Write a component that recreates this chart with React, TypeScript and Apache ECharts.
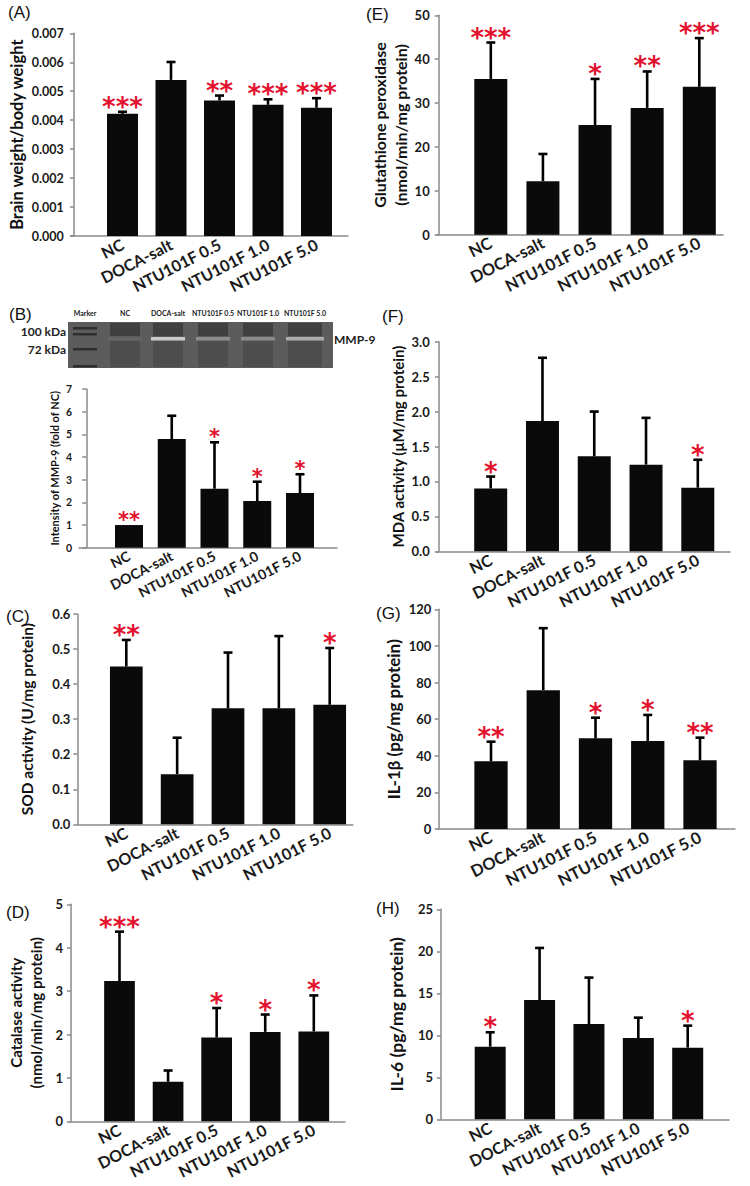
import React, { useEffect, useRef } from "react";
import * as echarts from "echarts";

// ---------------- data ----------------
const categories = ["NC", "DOCA-salt", "NTU101F 0.5", "NTU101F 1.0", "NTU101F 5.0"];
const blotLanes = ["Marker", "NC", "DOCA-salt", "NTU101F 0.5", "NTU101F 1.0", "NTU101F 5.0"];

const brainMeans = [0.00422, 0.00539, 0.00468, 0.00453, 0.00443];
const brainErr = [0.00007, 0.00062, 0.00017, 0.00019, 0.00033];
const brainStars = ["***", "", "**", "***", "***"];

const mmpMeans = [1.0, 4.79, 2.6, 2.06, 2.41];
const mmpErr = [0, 1.03, 2.05, 0.85, 0.83];
const mmpStars = ["**", "", "*", "*", "*"];

const sodMeans = [0.45, 0.143, 0.331, 0.331, 0.341];
const sodErr = [0.076, 0.104, 0.159, 0.206, 0.162];
const sodStars = ["**", "", "", "", "*"];

const catMeans = [3.23, 0.91, 1.93, 2.06, 2.07];
const catErr = [1.14, 0.26, 0.68, 0.4, 0.83];
const catStars = ["***", "", "*", "*", "*"];

const gpxMeans = [35.5, 12.2, 25.0, 28.9, 33.7];
const gpxErr = [8.3, 6.2, 10.5, 8.3, 11.1];
const gpxStars = ["***", "", "*", "**", "***"];

const mdaMeans = [0.9, 1.865, 1.36, 1.24, 0.91];
const mdaErr = [0.17, 0.905, 0.64, 0.67, 0.4];
const mdaStars = ["*", "", "", "", "*"];

const il1bMeans = [37.0, 75.8, 49.5, 48.1, 37.5];
const il1bErr = [10.7, 33.9, 11.3, 14.2, 12.4];
const il1bStars = ["**", "", "*", "*", "**"];

const il6Means = [8.65, 14.2, 11.35, 9.68, 8.53];
const il6Err = [1.71, 6.2, 5.52, 2.42, 2.62];
const il6Stars = ["*", "", "", "", "*"];

// ---------------- layout ----------------
const FONT = "Lato";
const RED = "#e3122e";
const AXIS_GRAY = "#8a8a8a";

type Panel = {
  letter: string; lx: number; ly: number;
  means: number[]; err: number[]; stars: string[];
  yMax: number; yInt: number; dec: number;
  name: string; nameGap: number; nameSize: number;
  left: number; right: number; top: number; bottom: number;
  c1: number; c5: number; bw: number;
  tickSize: number; labelSize: number; starSize: number;
};

const panels: Panel[] = [
  { letter: "(A)", lx: 8, ly: 12, means: brainMeans, err: brainErr, stars: brainStars, yMax: 0.007, yInt: 0.001, dec: 3,
    name: "Brain weight/body weight", nameGap: 42, nameSize: 16.5,
    left: 70.7, right: 348, top: 33.3, bottom: 236, c1: 122.5, c5: 316.5, bw: 31, tickSize: 12.5, labelSize: 16, starSize: 26 },
  { letter: "(B)", lx: 9, ly: 314, means: mmpMeans, err: mmpErr, stars: mmpStars, yMax: 7, yInt: 1, dec: 0,
    name: "Intensity of MMP-9 (fold of NC)", nameGap: 11, nameSize: 11,
    left: 79, right: 337, top: 389, bottom: 547.7, c1: 129, c5: 300, bw: 28, tickSize: 10.5, labelSize: 14, starSize: 21 },
  { letter: "(C)", lx: 6, ly: 616, means: sodMeans, err: sodErr, stars: sodStars, yMax: 0.6, yInt: 0.1, dec: 1,
    name: "SOD activity (U/mg protein)", nameGap: 40, nameSize: 15.5,
    left: 77.3, right: 353, top: 614, bottom: 824.3, c1: 126.3, c5: 329.7, bw: 32.7, tickSize: 13, labelSize: 16, starSize: 26 },
  { letter: "(D)", lx: 6, ly: 912, means: catMeans, err: catErr, stars: catStars, yMax: 5, yInt: 1, dec: 0,
    name: "Catalase activity\n(nmol/min/mg protein)", nameGap: 24, nameSize: 15,
    left: 70, right: 345, top: 904.3, bottom: 1121.3, c1: 119.5, c5: 313.8, bw: 30.7, tickSize: 13, labelSize: 16, starSize: 26 },
  { letter: "(E)", lx: 366, ly: 14, means: gpxMeans, err: gpxErr, stars: gpxStars, yMax: 50, yInt: 10, dec: 0,
    name: "Glutathione peroxidase\n(nmol/min/mg protein)", nameGap: 24, nameSize: 16,
    left: 436.7, right: 723, top: 15.3, bottom: 234.7, c1: 490.8, c5: 699.3, bw: 33, tickSize: 13, labelSize: 16.5, starSize: 26 },
  { letter: "(F)", lx: 382, ly: 316, means: mdaMeans, err: mdaErr, stars: mdaStars, yMax: 3, yInt: 0.5, dec: 1,
    name: "MDA activity (\u03bcM/mg protein)", nameGap: 29, nameSize: 15,
    left: 436.7, right: 730, top: 341.7, bottom: 551.3, c1: 490.7, c5: 697.8, bw: 33, tickSize: 13, labelSize: 16, starSize: 26 },
  { letter: "(G)", lx: 376, ly: 613, means: il1bMeans, err: il1bErr, stars: il1bStars, yMax: 120, yInt: 20, dec: 0,
    name: "IL-1\u03b2 (pg/mg protein)", nameGap: 30, nameSize: 17,
    left: 438.3, right: 735, top: 609.3, bottom: 829, c1: 491, c5: 700, bw: 33.3, tickSize: 13, labelSize: 16.5, starSize: 26 },
  { letter: "(H)", lx: 376, ly: 908, means: il6Means, err: il6Err, stars: il6Stars, yMax: 25, yInt: 5, dec: 0,
    name: "IL-6 (pg/mg protein)", nameGap: 32, nameSize: 17.5,
    left: 440, right: 729, top: 909.3, bottom: 1119.3, c1: 490.2, c5: 687.7, bw: 31, tickSize: 13, labelSize: 16, starSize: 26 },
];

function buildOption() {
  const grid: any[] = [];
  const xAxis: any[] = [];
  const yAxis: any[] = [];
  const series: any[] = [];
  const graphic: any[] = [];

  panels.forEach((p, i) => {
    const s = (p.c5 - p.c1) / 4;
    const xmin = 1 - (p.c1 - p.left) / s;
    const xmax = 5 + (p.right - p.c5) / s;
    grid.push({ left: p.left, top: p.top, width: p.right - p.left, height: p.bottom - p.top, containLabel: false });
    xAxis.push({
      type: "value", gridIndex: i, min: xmin, max: xmax,
      axisLine: { show: true, lineStyle: { color: AXIS_GRAY, width: 1.5 } },
      axisTick: { show: false }, splitLine: { show: false },
      axisLabel: {
        customValues: [1, 2, 3, 4, 5],
        formatter: (v: number) => categories[Math.round(v) - 1] ?? "",
        rotate: 27, margin: 7, fontFamily: FONT, fontWeight: "bold", fontSize: p.labelSize, color: "#1a1a1a",
      },
    });
    yAxis.push({
      type: "value", gridIndex: i, min: 0, max: p.yMax, interval: p.yInt,
      axisLine: { show: true, lineStyle: { color: AXIS_GRAY, width: 1.5 } },
      axisTick: { show: true, length: 4, lineStyle: { color: AXIS_GRAY, width: 1.5 } },
      splitLine: { show: false },
      axisLabel: {
        formatter: (v: number) => v.toFixed(p.dec), margin: 7,
        fontFamily: FONT, fontWeight: "bold", fontSize: p.tickSize, color: "#1a1a1a",
      },
      name: p.name, nameLocation: "middle", nameGap: p.nameGap,
      nameTextStyle: { fontFamily: FONT, fontWeight: "bold", fontSize: p.nameSize, color: "#111", lineHeight: p.nameSize + 5 },
    });
    series.push({
      type: "bar", xAxisIndex: i, yAxisIndex: i, barWidth: p.bw,
      itemStyle: { color: "#0a0a0a" },
      data: p.means.map((m, j) => [j + 1, m]),
    });
    series.push({
      type: "custom", xAxisIndex: i, yAxisIndex: i, z: 3,
      encode: { x: 0, y: [1, 2] },
      data: p.means.map((m, j) => [j + 1, m, m + p.err[j]]),
      renderItem: (params: any, api: any) => {
        const x = api.value(0);
        const lo = api.value(1);
        const hi = api.value(2);
        if (!(hi > lo)) return { type: "group", children: [] };
        const a = api.coord([x, lo]);
        const b = api.coord([x, hi]);
        const st = { stroke: "#000", lineWidth: 2.6 };
        return {
          type: "group",
          children: [
            { type: "line", shape: { x1: a[0], y1: a[1], x2: b[0], y2: b[1] }, style: st },
            { type: "line", shape: { x1: b[0] - 4.5, y1: b[1], x2: b[0] + 4.5, y2: b[1] }, style: st },
          ],
        };
      },
    });
    series.push({
      type: "custom", xAxisIndex: i, yAxisIndex: i, z: 4,
      encode: { x: 0, y: 1 },
      data: p.means.map((m, j) => [j + 1, m + p.err[j]]),
      renderItem: (params: any, api: any) => {
        const txt = p.stars[params.dataIndex];
        if (!txt) return { type: "group", children: [] };
        const c = api.coord([api.value(0), api.value(1)]);
        return {
          type: "text", x: c[0], y: c[1] - 5,
          style: {
            text: txt, fill: RED, font: `bold ${p.starSize}px "DejaVu Sans"`,
            textAlign: "center", textVerticalAlign: "middle", align: "center", verticalAlign: "middle",
          },
        };
      },
    });
    graphic.push({
      type: "text", left: p.lx, top: p.ly - 8,
      style: { text: p.letter, font: '17px "Liberation Sans"', fill: "#111" },
    });
  });

  // Western blot picture (panel B)
  const blotX = 68, blotY = 322, blotW = 265, blotH = 46;
  graphic.push({ type: "rect", shape: { x: blotX, y: blotY, width: blotW, height: blotH }, style: { fill: "#5c5c5c" } });
  const laneX = [85, 125, 168, 213, 258, 305];
  const laneW = [24, 30, 30, 30, 30, 34];
  const bandFill = ["", "#646464", "#c8c8c8", "#8c8c8c", "#8a8a8a", "#acacac"];
  laneX.forEach((cx, k) => {
    const w = laneW[k];
    if (k === 0) {
      [327, 333, 348, 365].forEach((by) =>
        graphic.push({ type: "rect", shape: { x: cx - w / 2, y: by, width: w, height: 2.5 }, style: { fill: "#2e2e2e" } })
      );
    } else {
      graphic.push({ type: "rect", shape: { x: cx - w / 2, y: blotY + 1, width: w, height: 13 }, style: { fill: "#404040" } });
      graphic.push({ type: "rect", shape: { x: cx - w / 2, y: blotY + 19, width: w, height: blotH - 20 }, style: { fill: "#4e4e4e" } });
      graphic.push({ type: "rect", shape: { x: cx - w / 2 - 2, y: blotY + 15, width: w + 4, height: 3.5 }, style: { fill: bandFill[k] } });
    }
    graphic.push({
      type: "text", x: cx, y: 313,
      style: { text: blotLanes[k], font: `bold 7px ${FONT}`, fill: "#222", textAlign: "center", textVerticalAlign: "middle", align: "center", verticalAlign: "middle" },
    });
  });
  graphic.push({ type: "text", x: 66, y: 331, style: { text: "100 kDa", font: `bold 12px ${FONT}`, fill: "#222", textAlign: "right", textVerticalAlign: "middle", align: "right", verticalAlign: "middle" } });
  graphic.push({ type: "text", x: 66, y: 349, style: { text: "72 kDa", font: `bold 12px ${FONT}`, fill: "#222", textAlign: "right", textVerticalAlign: "middle", align: "right", verticalAlign: "middle" } });
  graphic.push({ type: "text", x: 334, y: 339, style: { text: "MMP-9", font: `bold 12px ${FONT}`, fill: "#222", textAlign: "left", textVerticalAlign: "middle", align: "left", verticalAlign: "middle" } });

  return { animation: false, backgroundColor: "#ffffff", grid, xAxis, yAxis, series, graphic };
}

export default function App() {
  const ref = useRef<HTMLDivElement>(null);
  useEffect(() => {
    if (!ref.current) return;
    const chart = echarts.init(ref.current, undefined, { renderer: "svg" });
    chart.setOption(buildOption() as any);
    return () => chart.dispose();
  }, []);
  return <div ref={ref} style={{ position: "absolute", left: 0, top: 0, width: 750, height: 1186, background: "#fff" }} />;
}
